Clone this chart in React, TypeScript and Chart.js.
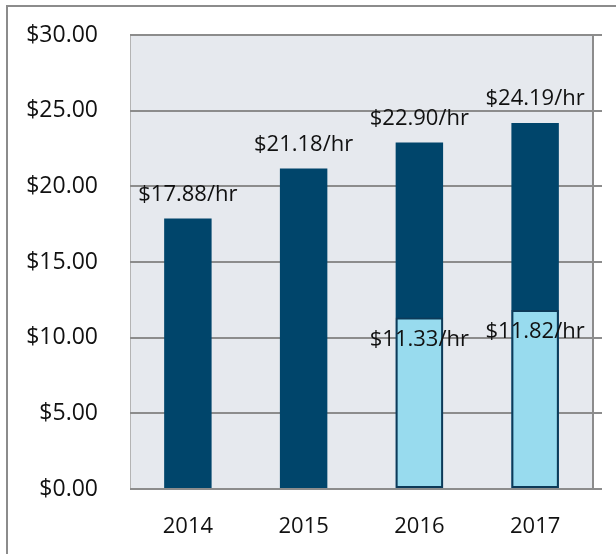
import React, { useEffect, useRef } from "react";
import { Chart, registerables } from "chart.js";
Chart.register(...registerables);

const years = ["2014", "2015", "2016", "2017"];
const totalWage = [17.88, 21.18, 22.9, 24.19];
const partWage: (number | null)[] = [null, null, 11.33, 11.82];
const yMin = 0;
const yMax = 30;
const yStep = 5;

const NAVY = "#00456b";
const LIGHT = "#98dbee";
const GRID = "#8c8c8c";
const FONT = "'Open Sans', 'Noto Sans', sans-serif";

const fmt = (v: number) => "$" + v.toFixed(2);

export default function App() {
  const ref = useRef<HTMLCanvasElement>(null);
  useEffect(() => {
    document.body.style.margin = "0";
    const bg = {
      id: "bg",
      beforeDraw(c: any) {
        const { ctx, chartArea: a } = c;
        ctx.save();
        ctx.fillStyle = "#ffffff";
        ctx.fillRect(0, 0, c.width, c.height);
        ctx.fillStyle = "#e6e9ee";
        ctx.fillRect(a.left, a.top, a.right - a.left, a.bottom - a.top);
        ctx.strokeStyle = GRID;
        ctx.lineWidth = 2;
        ctx.beginPath();
        ctx.moveTo(7, c.height + 5);
        ctx.lineTo(7, 6);
        ctx.lineTo(c.width + 5, 6);
        ctx.stroke();
        ctx.strokeStyle = "#b4b4b4";
        ctx.lineWidth = 1;
        ctx.beginPath();
        ctx.moveTo(a.left + 0.5, a.top);
        ctx.lineTo(a.left + 0.5, a.bottom);
        ctx.stroke();
        ctx.restore();
      },
    };
    const labels = {
      id: "labels",
      afterDatasetsDraw(c: any) {
        const ctx = c.ctx;
        ctx.save();
        ctx.font = "22px " + FONT;
        ctx.fillStyle = "#111111";
        ctx.textAlign = "center";
        ctx.textBaseline = "middle";
        c.getDatasetMeta(1).data.forEach((el: any, i: number) => {
          ctx.fillText(fmt(totalWage[i]) + "/hr", el.x, el.y - 24);
        });
        c.getDatasetMeta(0).data.forEach((el: any, i: number) => {
          const v = partWage[i];
          if (v == null) return;
          ctx.fillText(fmt(v) + "/hr", el.x, el.y + 22);
        });
        ctx.restore();
      },
    };
    const chart = new Chart(ref.current!, {
      type: "bar",
      data: {
        labels: years,
        datasets: [
          {
            data: partWage,
            backgroundColor: LIGHT,
            borderColor: "#0d3a58",
            borderWidth: 2,
            borderSkipped: false,
            categoryPercentage: 1,
            barPercentage: 0.41,
          },
          {
            data: totalWage,
            backgroundColor: NAVY,
            borderWidth: 0,
            categoryPercentage: 1,
            barPercentage: 0.41,
          },
        ],
      },
      options: {
        animation: false,
        responsive: true,
        maintainAspectRatio: false,
        layout: { padding: { top: 35, left: 0, right: 14, bottom: 0 } },
        plugins: { legend: { display: false }, tooltip: { enabled: false } },
        scales: {
          x: {
            stacked: true,
            grid: { display: false },
            border: { display: false },
            ticks: { color: "#111", font: { family: FONT, size: 22 }, padding: 17 },
            afterFit(s: any) {
              s.height = 65;
              s.paddingLeft = 0;
              s.paddingRight = 0;
            },
          },
          y: {
            min: yMin,
            max: yMax,
            position: "left",
            ticks: {
              stepSize: yStep,
              color: "#111",
              font: { family: FONT, size: 23 },
              padding: 32,
              callback: (v: any) => fmt(Number(v)),
            },
            grid: { color: GRID, lineWidth: 2, drawTicks: false },
            border: { display: false },
            afterFit(s: any) {
              s.width = 130;
              s.paddingTop = 0;
              s.paddingBottom = 0;
            },
          },
          yr: {
            type: "linear",
            min: yMin,
            max: yMax,
            position: "right",
            ticks: { display: false, stepSize: yStep },
            grid: { color: GRID, lineWidth: 2, drawOnChartArea: false, drawTicks: true, tickLength: 9 },
            border: { display: true, color: GRID, width: 2 },
            afterFit(s: any) {
              s.width = 9;
              s.paddingTop = 0;
              s.paddingBottom = 0;
            },
          },
        },
      },
      plugins: [bg, labels],
    } as any);
    return () => chart.destroy();
  }, []);
  return (
    <div style={{ width: 616, height: 554, position: "relative" }}>
      <canvas ref={ref} />
    </div>
  );
}
